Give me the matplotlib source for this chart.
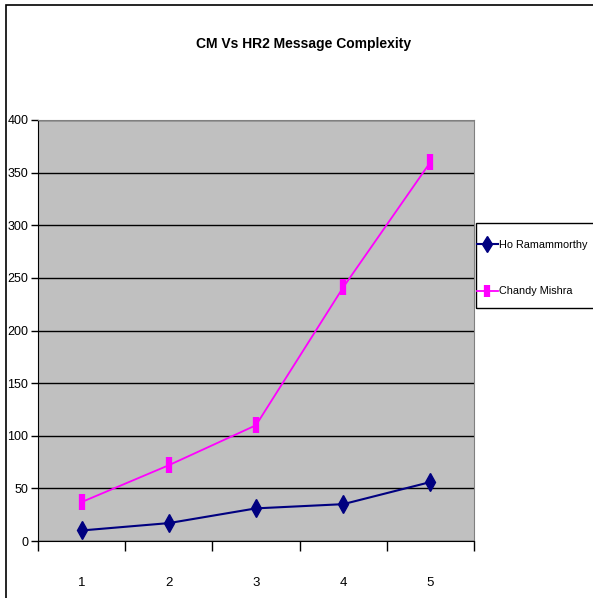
import matplotlib
matplotlib.use("Agg")
import matplotlib.pyplot as plt
from matplotlib.patches import Rectangle

plt.rcParams["font.family"] = ["Liberation Sans Narrow", "Liberation Sans", "DejaVu Sans"]

categories = ["1", "2", "3", "4", "5"]
ho_ramammorthy = [10, 17, 31, 35, 56]
chandy_mishra = [37, 72, 110, 241, 360]
y_ticks = [0, 50, 100, 150, 200, 250, 300, 350, 400]

fig = plt.figure(figsize=(5.93, 5.98), dpi=100)
fig.patch.set_facecolor("white")

# outer chart frame (cut off at right/bottom like the source)
fig.patches.append(Rectangle((6 / 593, -0.1), 1.2, 1.1 - 5 / 598,
                             transform=fig.transFigure, fill=False,
                             edgecolor="black", linewidth=1.2))

ax = fig.add_axes([38 / 593, 1 - 541 / 598, 436 / 593, 421 / 598])
ax.set_facecolor("#c0c0c0")

x = list(range(len(categories)))
ax.plot(x, ho_ramammorthy, color="#000080", linewidth=1.5,
        marker="d", markersize=9, label="Ho Ramammorthy")
ax.plot(x, chandy_mishra, color="#ff00ff", linewidth=1.3,
        marker="|", markersize=11, markeredgewidth=4.5, label="Chandy Mishra")

ax.set_xlim(-0.5, len(categories) - 0.5)
ax.set_ylim(0, 400)
ax.set_yticks(y_ticks)
ax.set_yticklabels([str(v) for v in y_ticks], fontsize=9)
ax.yaxis.grid(True, color="black", linewidth=1)
ax.set_axisbelow(True)

ax.set_xticks([i - 0.5 for i in range(len(categories) + 1)])
ax.set_xticklabels([])
ax.set_xticks(x, minor=True)
ax.set_xticklabels(categories, minor=True, fontsize=9.5)
ax.tick_params(axis="x", which="major", direction="out", length=7, width=1)
ax.tick_params(axis="x", which="minor", length=0, pad=26)
ax.tick_params(axis="y", direction="out", length=5, width=1, pad=2)

for side in ["top", "right"]:
    ax.spines[side].set_color("#808080")
ax.spines["left"].set_color("black")
ax.spines["bottom"].set_color("black")

fig.text(304 / 593, 1 - 44 / 598, "CM Vs HR2 Message Complexity",
         ha="center", va="center", fontsize=10, fontweight="bold")

# legend box drawn by hand so it can run off the right edge like the source
fig.patches.append(Rectangle((476 / 593, 1 - 308 / 598), 0.3, 85 / 598,
                             transform=fig.transFigure, fill=False,
                             edgecolor="black", linewidth=1))
fig.legend(loc="center left", bbox_to_anchor=(477 / 593, 1 - 268 / 598),
           frameon=False, fontsize=7.8, handlelength=1.9, handletextpad=0.1,
           labelspacing=3.4, borderpad=0, borderaxespad=0,
           markerscale=0.85)

fig.savefig("out.png", dpi=100)
